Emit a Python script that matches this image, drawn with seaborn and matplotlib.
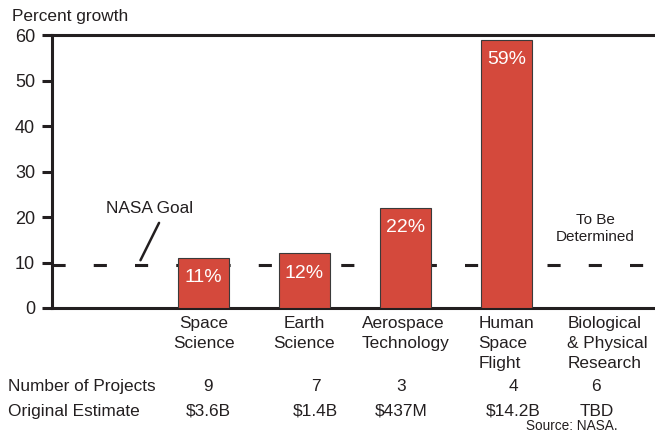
import matplotlib
matplotlib.use("Agg")
import matplotlib.pyplot as plt
import matplotlib.transforms as mtransforms
import seaborn as sns
import pandas as pd
import numpy as np

# Dados
programs = ["Space\nScience", "Earth\nScience", "Aerospace\nTechnology",
            "Human\nSpace\nFlight", "Biological\n& Physical\nResearch"]
growth = [11, 12, 22, 59, np.nan]
n_projects = ["9", "7", "3", "4", "6"]
orig_estimate = ["$3.6B", "$1.4B", "$437M", "$14.2B", "TBD"]
nasa_goal = 9.5
y_ticks = [0, 10, 20, 30, 40, 50, 60]

df = pd.DataFrame({"program": programs, "growth": growth})
order = [""] + programs

sns.set_style("white")
plt.rcParams["font.family"] = ["Liberation Sans", "DejaVu Sans"]
ink = "#231f20"
bar_red = "#d4493c"

fig = plt.figure(figsize=(6.55, 4.36), dpi=100)
ax = fig.add_axes([52 / 655, 128 / 436, 606 / 655, 273 / 436])

sns.barplot(data=df, x="program", y="growth", order=order, color=bar_red,
            saturation=1, width=0.5, edgecolor="#3a3a3a", linewidth=0.8,
            ax=ax)
for p in ax.patches:
    p.set_zorder(3)

# Linha da meta da NASA (atrás das barras)
ax.axhline(nasa_goal, color=ink, lw=2.2, ls=(0, (4.3, 9.2)), zorder=1)
ax.annotate("NASA Goal", xy=(0.376, 10.5), xytext=(0.465, 21.9),
            ha="center", va="center", fontsize=12.4, color=ink,
            arrowprops=dict(arrowstyle="-", color=ink, lw=1.8,
                            relpos=(0.65, 0), shrinkA=3, shrinkB=0))
ax.text(4.88, 17.5, "To Be\nDetermined", ha="center", va="center",
        fontsize=11, color=ink, linespacing=1.3)

# Rótulos das barras
for i, v in enumerate(growth):
    if np.isnan(v):
        continue
    ax.annotate(f"{v:g}%", xy=(i + 1, v), xytext=(0, -14.4),
                textcoords="offset points", ha="center", va="center",
                fontsize=14, color="white", zorder=4)

ax.set_xlim(-0.5, 5.5)
ax.set_ylim(0, 60)
ax.set_yticks(y_ticks)
ax.set_xlabel("")
ax.set_ylabel("")

for side in ["left", "bottom", "top"]:
    ax.spines[side].set_linewidth(2.2)
    ax.spines[side].set_color(ink)
ax.spines["right"].set_visible(False)

ax.tick_params(axis="y", direction="out", length=7.2, width=2.2, colors=ink,
               labelsize=13, pad=5, left=True)
ax.tick_params(axis="x", length=0, labelsize=12.4, pad=5.5, colors=ink)
for i, lbl in enumerate(ax.get_xticklabels()):
    lbl.set_linespacing(1.45)
    if i >= 3:
        lbl.set_multialignment("left")

# Tabela abaixo do gráfico
trans = mtransforms.blended_transform_factory(ax.transData, fig.transFigure)
table_dx = [0.05, 0.11, -0.04, 0.07, -0.11]
fig.text(8 / 655, 1 - 386 / 436, "Number of Projects", ha="left", va="center",
         fontsize=12.4, color=ink)
fig.text(8 / 655, 1 - 411 / 436, "Original Estimate", ha="left", va="center",
         fontsize=12.4, color=ink)
for i in range(len(programs)):
    ax.text(i + 1 + table_dx[i], 1 - 386 / 436, n_projects[i], transform=trans,
            ha="center", va="center", fontsize=12.4, color=ink)
    ax.text(i + 1 + table_dx[i], 1 - 411 / 436, orig_estimate[i], transform=trans,
            ha="center", va="center", fontsize=12.4, color=ink)

fig.text(12 / 655, 1 - 16 / 436, "Percent growth", ha="left", va="center",
         fontsize=12.4, color=ink)
fig.text(618 / 655, 1 - 426 / 436, "Source: NASA.", ha="right", va="center",
         fontsize=9.8, color=ink)

fig.savefig("out.png", dpi=100)
